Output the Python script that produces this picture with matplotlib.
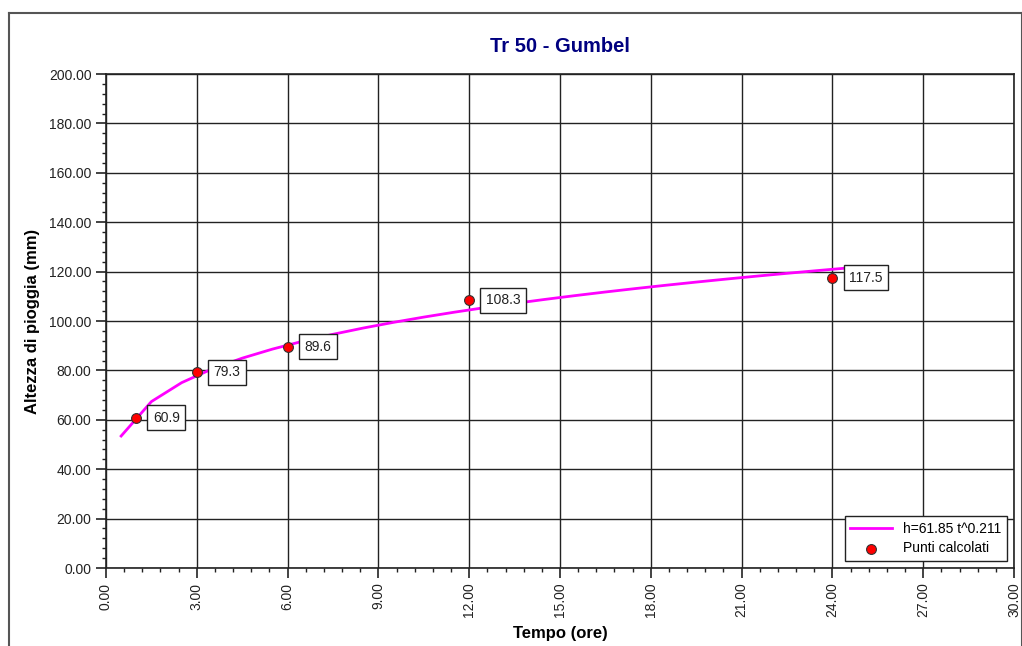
import numpy as np
import matplotlib.pyplot as plt
from matplotlib.ticker import MultipleLocator, FormatStrFormatter
from matplotlib.lines import Line2D

plt.rcParams['font.family'] = ['Liberation Sans', 'DejaVu Sans']

# punti calcolati (durata in ore, altezza in mm)
durate = [1, 3, 6, 12, 24]
altezze = [60.9, 79.3, 89.6, 108.3, 117.5]
etichette = ['60.9', '79.3', '89.6', '108.3', '117.5']

# curva di possibilita' pluviometrica h = a t^n
a, n = 61.85, 0.211
t_curva = np.arange(0.5, 25.0, 1.0)
h_curva = a * t_curva ** n

fig = plt.figure(figsize=(10.22, 6.46), dpi=100)
ax = fig.add_axes([106 / 1022, 1 - 568 / 646, 908 / 1022, 494 / 646])

# cornice esterna
for xs, ys in [([8.5, 8.5], [0, 633]), ([8.5, 1021.5], [633, 633]), ([1021.5, 1021.5], [0, 633])]:
    fig.add_artist(Line2D(np.array(xs) / 1022, np.array(ys) / 646, color='#555555', lw=1.5))

ax.plot(t_curva, h_curva, color='#ff00ff', lw=2, zorder=3, label='h=61.85 t^0.211')
ax.scatter(durate, altezze, s=50, color='#ff0000', edgecolors='#333333', linewidths=0.8,
           zorder=4, label='Punti calcolati')

for t, h, s in zip(durate, altezze, etichette):
    ax.annotate(s, (t, h), xytext=(12, 0), textcoords='offset points', va='center', ha='left',
                fontsize=10, color='#222222', zorder=5,
                bbox=dict(boxstyle='square,pad=0.4', fc='white', ec='#222222', lw=1))

ax.set_xlim(0, 30)
ax.set_ylim(0, 200)
ax.xaxis.set_major_locator(MultipleLocator(3))
ax.xaxis.set_minor_locator(MultipleLocator(0.6))
ax.yaxis.set_major_locator(MultipleLocator(20))
ax.yaxis.set_minor_locator(MultipleLocator(4))
ax.xaxis.set_major_formatter(FormatStrFormatter('%.2f'))
ax.yaxis.set_major_formatter(FormatStrFormatter('%.2f'))
ax.tick_params(axis='x', labelrotation=90)
ax.tick_params(which='major', length=7, width=1.2, color='#222222', labelsize=10, labelcolor='#222222')
ax.tick_params(which='minor', length=3, width=1, color='#222222')
ax.grid(which='major', color='#222222', lw=1)
for sp in ax.spines.values():
    sp.set_color('#222222')
    sp.set_linewidth(1.2)

ax.set_title('Tr 50 - Gumbel', fontsize=14.5, fontweight='bold', color='#000080', pad=16)
ax.set_xlabel('Tempo (ore)', fontsize=12, fontweight='bold', labelpad=6)
ax.set_ylabel('Altezza di pioggia (mm)', fontsize=12, fontweight='bold', labelpad=6)

leg = ax.legend(loc='lower right', fontsize=10, frameon=True, fancybox=False,
                edgecolor='#222222', framealpha=1, borderaxespad=0.5, handlelength=3,
                borderpad=0.4, labelspacing=0.4)
leg.get_frame().set_linewidth(1)

fig.savefig('out.png', dpi=100)
